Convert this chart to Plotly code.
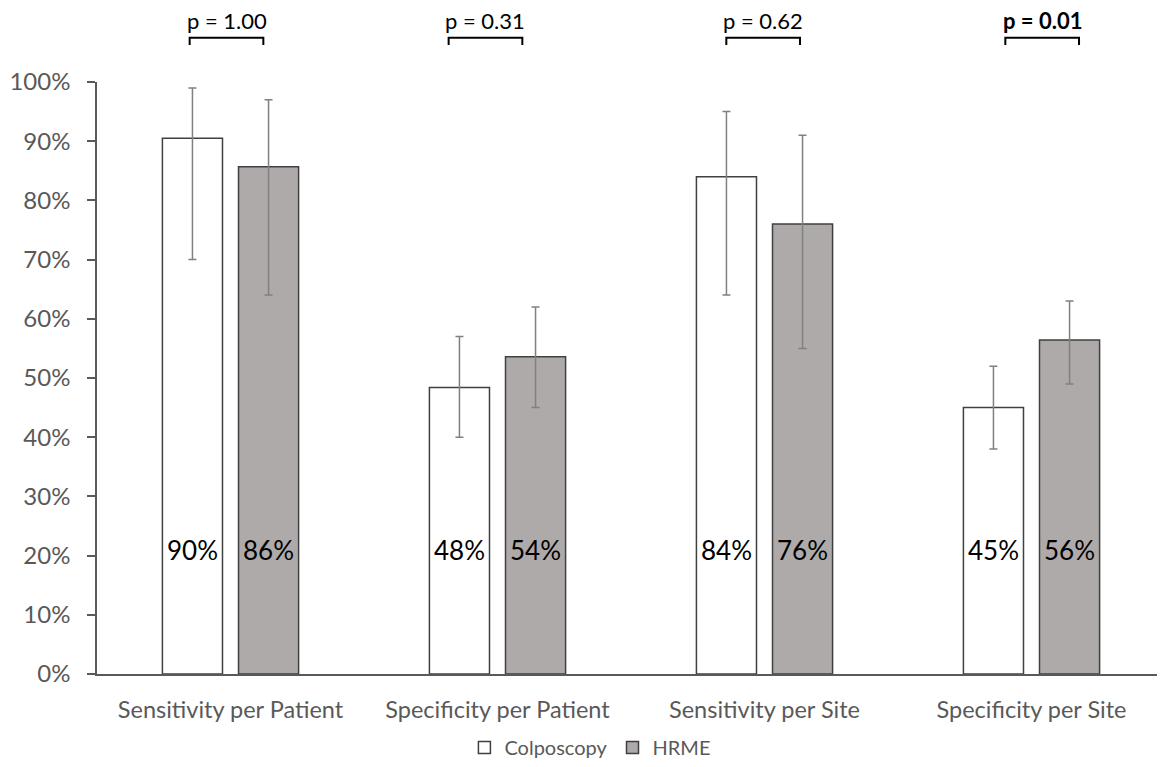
import plotly.graph_objects as go

categories = ["Sensitivity per Patient", "Specificity per Patient", "Sensitivity per Site", "Specificity per Site"]
colposcopy = [0.9048, 0.484, 0.84, 0.45]
colposcopy_lo = [0.70, 0.40, 0.64, 0.38]
colposcopy_hi = [0.99, 0.57, 0.95, 0.52]
hrme = [0.857, 0.536, 0.76, 0.564]
hrme_lo = [0.64, 0.45, 0.55, 0.49]
hrme_hi = [0.97, 0.62, 0.91, 0.63]
p_values = ["p = 1.00", "p = 0.31", "p = 0.62", "<b>p = 0.01</b>"]

FONT = "Lato, Open Sans, sans-serif"
GREY_TXT = "#595959"
xs = list(range(len(categories)))
W = 0.225
OFF_C = -0.255
OFF_H = 0.03

fig = go.Figure()
fig.add_trace(go.Bar(
    name="Colposcopy", x=xs, y=colposcopy, width=W, offset=OFF_C,
    marker=dict(color="#ffffff", line=dict(color="#404040", width=1.5)),
    error_y=dict(type="data", symmetric=False,
                 array=[h - v for h, v in zip(colposcopy_hi, colposcopy)],
                 arrayminus=[v - l for v, l in zip(colposcopy, colposcopy_lo)],
                 color="#808080", thickness=1.5, width=4),
))
fig.add_trace(go.Bar(
    name="HRME", x=xs, y=hrme, width=W, offset=OFF_H,
    marker=dict(color="#aeaaaa", line=dict(color="#404040", width=1.5)),
    error_y=dict(type="data", symmetric=False,
                 array=[h - v for h, v in zip(hrme_hi, hrme)],
                 arrayminus=[v - l for v, l in zip(hrme, hrme_lo)],
                 color="#808080", thickness=1.5, width=4),
))

annotations = []
shapes = []
bracket_shift = [-0.015, -0.045, -0.005, 0.04]
for i in xs:
    for vals, off in ((colposcopy, OFF_C), (hrme, OFF_H)):
        annotations.append(dict(
            x=i + off + W / 2, y=0.21, xref="x", yref="y",
            text=f"{vals[i]:.0%}", showarrow=False,
            font=dict(family=FONT, size=26, color="#000000"),
        ))
    cx = i + bracket_shift[i]
    x0, x1 = cx - 0.138, cx + 0.138
    shapes.append(dict(
        type="path", xref="x", yref="paper",
        path=f"M {x0},1.0623 L {x0},1.0746 L {x1},1.0746 L {x1},1.0623",
        line=dict(color="#000000", width=2),
    ))
    annotations.append(dict(
        x=cx, y=1.104, xref="x", yref="paper", text=p_values[i],
        showarrow=False, yanchor="middle",
        font=dict(family=FONT, size=22, color="#000000"),
    ))

fig.update_layout(
    width=1157, height=759,
    margin=dict(l=89, r=0, t=74, b=91),
    plot_bgcolor="#ffffff", paper_bgcolor="#ffffff",
    font=dict(family=FONT, color=GREY_TXT, size=20),
    showlegend=True,
    legend=dict(orientation="h", x=0.462, xanchor="center", y=-0.125, yanchor="middle",
                font=dict(family=FONT, size=20, color=GREY_TXT), itemwidth=30),
    annotations=annotations, shapes=shapes,
)
fig.update_xaxes(
    range=[-0.5, 3.5], tickvals=xs, ticktext=categories,
    showline=True, linecolor="#595959", linewidth=2, ticks="",
    showgrid=False, zeroline=False, ticklabelstandoff=14,
    tickfont=dict(family=FONT, size=23.5, color=GREY_TXT),
)
fig.update_yaxes(
    range=[0, 1], dtick=0.1, tickformat=".0%",
    showline=True, linecolor="#595959", linewidth=1.5,
    ticks="outside", ticklen=8, tickcolor="#595959", tickwidth=1.5,
    showgrid=False, zeroline=False, ticklabelstandoff=12,
    tickfont=dict(family=FONT, size=24, color=GREY_TXT),
)

fig.write_html("out.html")
